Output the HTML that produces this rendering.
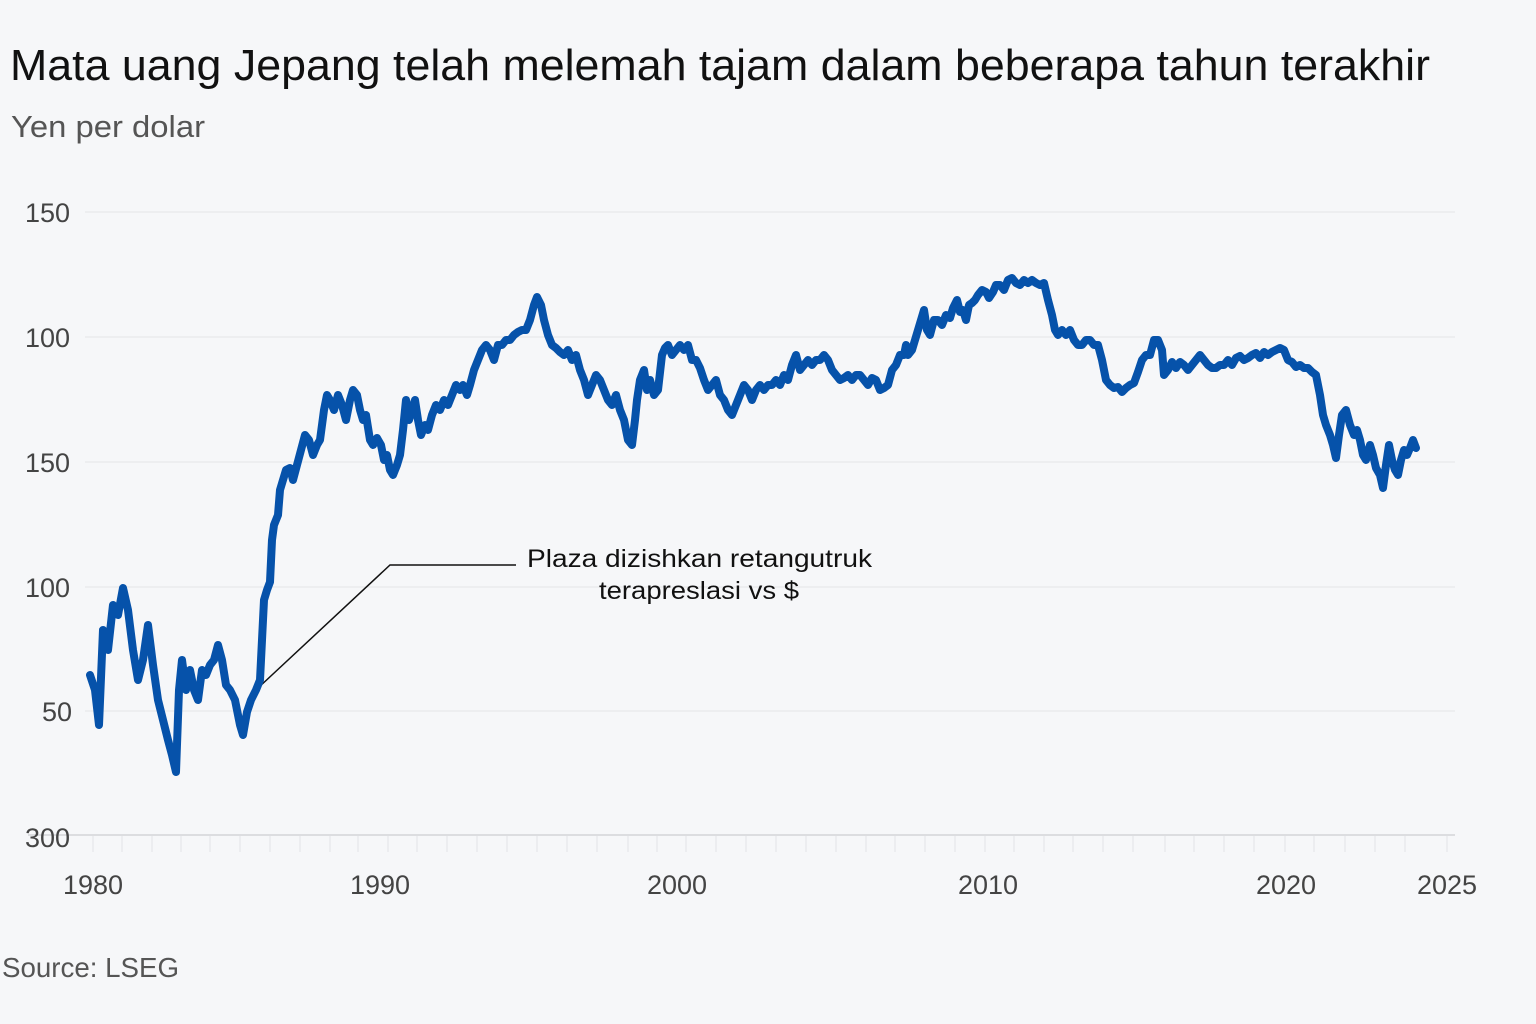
<!DOCTYPE html>
<html><head><meta charset="utf-8"><style>
html,body{margin:0;padding:0;background:#f6f7f9;}
svg{display:block;}
text{font-family:"Liberation Sans",sans-serif;}
</style></head><body>
<svg width="1536" height="1024" viewBox="0 0 1536 1024">
<rect width="1536" height="1024" fill="#f6f7f9"/>
<text x="10" y="80" font-size="44" fill="#111" textLength="1420" lengthAdjust="spacingAndGlyphs">Mata uang Jepang telah melemah tajam dalam beberapa tahun terakhir</text>
<text x="11" y="137" font-size="31" fill="#555" textLength="194" lengthAdjust="spacingAndGlyphs">Yen per dolar</text>
<g stroke="#e4e5e8" stroke-width="1">
<line x1="85" y1="212" x2="1455" y2="212"/>
<line x1="85" y1="337" x2="1455" y2="337"/>
<line x1="85" y1="462" x2="1455" y2="462"/>
<line x1="85" y1="587" x2="1455" y2="587"/>
<line x1="85" y1="711" x2="1455" y2="711"/>
</g>
<line x1="28" y1="835" x2="1455" y2="835" stroke="#dcdde0" stroke-width="2"/>
<g stroke="#e2e3e6" stroke-width="1">
<line x1="93" y1="836" x2="93" y2="852"/><line x1="122" y1="836" x2="122" y2="852"/><line x1="152" y1="836" x2="152" y2="852"/><line x1="181" y1="836" x2="181" y2="852"/><line x1="210" y1="836" x2="210" y2="852"/><line x1="240" y1="836" x2="240" y2="852"/><line x1="270" y1="836" x2="270" y2="852"/><line x1="300" y1="836" x2="300" y2="852"/><line x1="330" y1="836" x2="330" y2="852"/><line x1="358" y1="836" x2="358" y2="852"/><line x1="388" y1="836" x2="388" y2="852"/><line x1="417" y1="836" x2="417" y2="852"/><line x1="447" y1="836" x2="447" y2="852"/><line x1="477" y1="836" x2="477" y2="852"/><line x1="507" y1="836" x2="507" y2="852"/><line x1="537" y1="836" x2="537" y2="852"/><line x1="567" y1="836" x2="567" y2="852"/><line x1="597" y1="836" x2="597" y2="852"/><line x1="628" y1="836" x2="628" y2="852"/><line x1="657" y1="836" x2="657" y2="852"/><line x1="686" y1="836" x2="686" y2="852"/><line x1="716" y1="836" x2="716" y2="852"/><line x1="746" y1="836" x2="746" y2="852"/><line x1="776" y1="836" x2="776" y2="852"/><line x1="806" y1="836" x2="806" y2="852"/><line x1="836" y1="836" x2="836" y2="852"/><line x1="866" y1="836" x2="866" y2="852"/><line x1="895" y1="836" x2="895" y2="852"/><line x1="925" y1="836" x2="925" y2="852"/><line x1="955" y1="836" x2="955" y2="852"/><line x1="985" y1="836" x2="985" y2="852"/><line x1="1014" y1="836" x2="1014" y2="852"/><line x1="1044" y1="836" x2="1044" y2="852"/><line x1="1073" y1="836" x2="1073" y2="852"/><line x1="1103" y1="836" x2="1103" y2="852"/><line x1="1133" y1="836" x2="1133" y2="852"/><line x1="1165" y1="836" x2="1165" y2="852"/><line x1="1194" y1="836" x2="1194" y2="852"/><line x1="1224" y1="836" x2="1224" y2="852"/><line x1="1254" y1="836" x2="1254" y2="852"/><line x1="1285" y1="836" x2="1285" y2="852"/><line x1="1314" y1="836" x2="1314" y2="852"/><line x1="1345" y1="836" x2="1345" y2="852"/><line x1="1375" y1="836" x2="1375" y2="852"/><line x1="1405" y1="836" x2="1405" y2="852"/><line x1="1447" y1="836" x2="1447" y2="852"/>
</g>
<g font-size="27" fill="#444">
<text x="25" y="222">150</text>
<text x="25" y="347">100</text>
<text x="25" y="472">150</text>
<text x="25" y="597">100</text>
<text x="42" y="721">50</text>
<text x="25" y="847">300</text>
</g>
<g font-size="27" fill="#444" text-anchor="middle">
<text x="93" y="894">1980</text>
<text x="380" y="894">1990</text>
<text x="677" y="894">2000</text>
<text x="988" y="894">2010</text>
<text x="1286" y="894">2020</text>
<text x="1447" y="894">2025</text>
</g>
<text x="2" y="977" font-size="28" fill="#555" textLength="177" lengthAdjust="spacingAndGlyphs">Source: LSEG</text>
<polyline fill="none" stroke="#111" stroke-width="1.5" points="258,688 390,565 516,565"/>
<text x="527" y="567" font-size="25" fill="#111" textLength="345" lengthAdjust="spacingAndGlyphs">Plaza dizishkan retangutruk</text>
<text x="599" y="599" font-size="25" fill="#111" textLength="200" lengthAdjust="spacingAndGlyphs">terapreslasi vs $</text>
<polyline fill="none" stroke="#0652aa" stroke-width="8" stroke-linejoin="round" stroke-linecap="round" points="90,675 95,690 99,725 103,630 108,650 113,605 118,615 123,588 128,610 133,650 138,680 143,660 148,625 153,665 158,700 163,720 168,740 172,755 176,772 179,690 182,660 186,690 190,670 194,690 198,700 202,670 206,675 210,665 214,660 218,645 222,660 226,685 230,690 235,700 240,725 243,735 247,712 251,700 256,690 260,680 262,640 264,600 267,590 270,582 272,540 274,525 278,515 280,490 283,480 286,470 290,468 293,480 297,465 301,450 305,435 309,440 313,455 317,445 320,440 324,410 327,395 330,400 334,410 338,395 342,405 346,420 350,400 353,390 357,395 360,410 363,420 366,415 370,440 373,445 377,438 381,445 384,460 387,455 390,470 393,475 397,465 400,455 403,430 406,400 409,420 412,410 415,400 418,420 421,435 425,425 428,430 432,415 436,405 440,410 444,400 448,405 452,395 456,385 460,390 463,385 467,395 470,385 474,370 478,360 482,350 486,345 490,350 494,360 498,345 502,345 506,340 510,340 514,335 518,332 522,330 526,330 530,320 534,305 537,297 541,305 544,320 548,335 552,345 556,348 560,352 564,355 568,350 572,360 576,355 580,370 584,380 588,395 592,385 596,375 600,380 604,390 608,400 612,405 616,395 620,410 624,420 628,440 632,445 635,420 637,400 640,380 644,370 647,390 650,380 654,395 658,390 662,355 665,348 668,345 672,355 676,350 680,345 684,350 688,345 692,360 696,360 700,368 704,380 708,390 712,385 716,380 720,395 724,400 728,410 732,415 736,405 740,395 744,385 748,390 752,400 756,390 760,385 764,390 768,385 772,385 776,380 780,385 784,375 788,380 792,365 796,355 800,370 804,365 808,360 812,365 816,360 820,360 824,355 828,360 832,370 836,375 840,380 844,378 848,375 852,380 856,375 860,375 864,380 868,385 872,378 876,380 880,390 884,388 888,385 892,370 896,365 900,355 904,355 906,345 908,355 912,350 915,340 918,330 921,320 924,310 927,330 930,335 934,320 938,320 942,325 946,315 950,318 953,308 957,300 960,312 963,310 966,320 969,305 972,303 975,300 978,295 982,290 986,292 989,298 993,292 996,285 1000,285 1004,290 1008,280 1012,278 1016,283 1020,285 1024,280 1028,283 1032,280 1036,283 1040,285 1044,283 1048,300 1052,315 1055,330 1058,335 1062,330 1066,335 1070,330 1074,340 1078,345 1082,345 1086,340 1090,340 1094,345 1098,345 1102,360 1106,380 1110,385 1114,388 1118,387 1122,392 1126,388 1130,385 1134,383 1138,372 1142,360 1146,355 1150,355 1154,340 1158,340 1162,350 1164,375 1168,370 1172,362 1176,368 1180,362 1184,365 1188,370 1192,365 1196,360 1200,355 1204,360 1208,365 1212,368 1216,368 1220,365 1224,365 1228,360 1232,365 1236,358 1240,356 1244,360 1248,358 1252,355 1256,353 1260,358 1264,352 1268,355 1272,352 1276,350 1280,348 1284,350 1288,360 1292,362 1296,367 1300,365 1304,368 1308,368 1312,372 1316,375 1320,395 1323,415 1326,425 1330,435 1333,445 1336,458 1339,435 1342,415 1346,410 1350,425 1354,435 1357,430 1360,440 1363,455 1366,460 1370,445 1373,455 1376,468 1380,475 1383,488 1386,465 1389,445 1392,460 1395,470 1398,475 1401,460 1404,450 1407,455 1410,448 1413,440 1416,448"/>
</svg>
</body></html>
